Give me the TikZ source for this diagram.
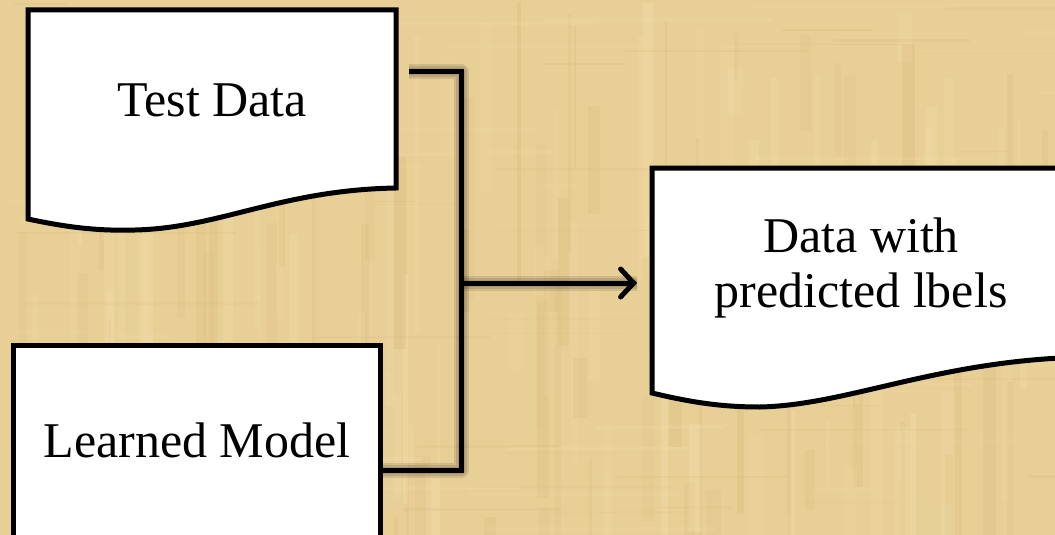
\documentclass[tikz,border=0pt]{standalone}
\usepackage{fontspec}
\setmainfont{Liberation Serif}
\usetikzlibrary{arrows.meta}

\definecolor{paper}{RGB}{232,207,150}
\definecolor{paperlight}{RGB}{245,226,176}
\definecolor{paperdark}{RGB}{204,168,102}

\tikzset{
  outline/.style={draw=black, fill=white, line width=5pt, line join=miter},
  label/.style={font=\fontsize{50}{55}\selectfont, align=center, anchor=base, inner sep=0pt},
  conn/.style={draw=black, line width=5pt, line join=miter},
  connshade/.style={draw=black, line width=#1, opacity=0.10, line join=round},
  flowarrow/.style={conn, -{Straight Barb[length=13pt, width=28pt, line width=5pt, line cap=round]}},
}

\begin{document}
\begin{tikzpicture}[x=1pt, y=-1pt]
  \useasboundingbox (0,0) rectangle (1055,535);
  \clip (0,0) rectangle (1055,535);

  % parchment background
  \fill[paper] (0,0) rectangle (1055,535);
  \pgfmathsetseed{42}
  \foreach \i in {1,...,160} {
    \pgfmathsetmacro{\sx}{rnd*1055}
    \pgfmathsetmacro{\sw}{2+rnd*14}
    \pgfmathsetmacro{\sy}{rnd*535}
    \pgfmathsetmacro{\sh}{40+rnd*260}
    \pgfmathsetmacro{\op}{0.10+rnd*0.18}
    \ifodd\i
      \fill[paperlight, opacity=\op] (\sx,\sy) rectangle ++(\sw,\sh);
    \else
      \fill[paperdark, opacity=\op*0.6] (\sx,\sy) rectangle ++(\sw,\sh);
    \fi
  }
  \foreach \i in {1,...,90} {
    \pgfmathsetmacro{\hx}{rnd*1055}
    \pgfmathsetmacro{\hy}{rnd*535}
    \pgfmathsetmacro{\hw}{40+rnd*200}
    \pgfmathsetmacro{\op}{0.08+rnd*0.14}
    \ifodd\i
      \fill[paperlight, opacity=\op] (\hx,\hy) rectangle ++(\hw,2+rnd*3);
    \else
      \fill[paperdark, opacity=\op*0.6] (\hx,\hy) rectangle ++(\hw,1+rnd*2);
    \fi
  }

  % anchor points
  \coordinate (tdout) at (409,72);
  \coordinate (join)  at (461,283);
  \coordinate (lmout) at (380,470);
  \coordinate (outin) at (637,283);

  % soft shadows under the connectors
  \foreach \w in {15,11,7} {
    \draw[connshade=\w pt, shift={(3,5)}] (tdout) -| (join) |- (lmout);
    \draw[connshade=\w pt, shift={(3,5)}] (join) -- (outin);
  }

  % Test Data (document shape)
  \path[outline] (28,10) -- (396,10) -- (396,188)
    .. controls (280,190) and (220,228) .. (135,230)
    .. controls (100,231) and (70,228) .. (28,219) -- cycle;
  \node[label] (testdata) at (212,117) {Test Data};

  % Learned Model (rectangle running off the bottom edge)
  \path[outline] (13,345) rectangle (380,560);
  \node[label] (model) at (197,457) {Learned Model};

  % Data with predicted labels (document shape running off the right edge)
  \path[outline] (652,168) -- (1090,168) -- (1090,357)
    .. controls (940,359) and (850,405) .. (760,407)
    .. controls (720,407) and (690,402) .. (652,393) -- cycle;
  \node[label] (result) at (861,307) {Data with\\predicted lbels};

  % connectors
  \draw[conn] (tdout) -| (join) |- (lmout);
  \draw[flowarrow] (join) -- (outin);
\end{tikzpicture}
\end{document}
